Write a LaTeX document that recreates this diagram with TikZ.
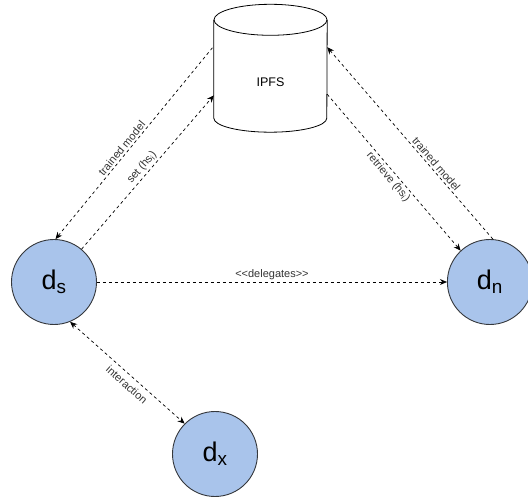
\documentclass[tikz,border=0pt]{standalone}
\usepackage{fontspec}
\setmainfont{Liberation Sans}
\usepackage{xcolor}
\usetikzlibrary{arrows.meta, positioning, shapes.geometric}
\definecolor{agentfill}{HTML}{A9C4EB}
\definecolor{agentline}{HTML}{36393D}
\definecolor{labelgray}{HTML}{333333}

\begin{document}
\begin{tikzpicture}[
    x=1pt, y=1pt,
    agent/.style={circle, draw=agentline, fill=agentfill, line width=0.9pt, minimum size=85pt, inner sep=0pt, font=\fontsize{27}{30}\selectfont},
    store/.style={rectangle, minimum width=113pt, minimum height=98pt, inner sep=0pt, font=\fontsize{12.5}{14}\selectfont, text height=35pt, text depth=0pt},
    storeline/.style={line width=0.8pt},
    flow/.style={dashed, dash pattern=on 3pt off 3pt, line width=0.7pt, >={Stealth[length=7pt, width=6pt]}},
    lbl/.style={font=\fontsize{11}{13}\selectfont, text=labelgray, inner sep=2pt}
  ]
  \useasboundingbox (0,0) rectangle (528,496);

  % Nodos
  \node[agent] (ds) at (54,214) {d\textsubscript{s}};
  \node[agent, right=350pt of ds] (dn) {d\textsubscript{n}};
  \node[agent] (dx) at (215,42) {d\textsubscript{x}};
  \node[store] (ipfs) at (270.5,427) {IPFS};

  % Cilindro
  \draw[storeline] (ipfs.north west) -- (ipfs.south west)
    arc[start angle=180, end angle=360, x radius=56.5pt, y radius=14pt] -- (ipfs.north east);
  \draw[storeline] (ipfs.north) ellipse[x radius=56.5pt, y radius=15.5pt];

  \draw[flow, <-] (ds.88) -- node[lbl, sloped, above, pos=0.45] {trained model} (ipfs.158);
  \draw[flow, ->] (ds.50) -- node[lbl, sloped, above] {set (hs\textsubscript{i})} (ipfs.205);
  \draw[flow, ->] (ipfs.336) -- node[lbl, sloped, below] {retrieve (hs\textsubscript{i})} (dn.133);
  \draw[flow, <-] (ipfs.21) -- node[lbl, sloped, above, pos=0.63] {trained model} (dn.86);
  \draw[flow, ->] (ds) -- node[lbl, above] {<{}<delegates>{}>} (dn);
  \draw[flow, <->] (ds.292) -- node[lbl, sloped, below=3pt, pos=0.55] {interaction} (dx.135);

\end{tikzpicture}
\end{document}
